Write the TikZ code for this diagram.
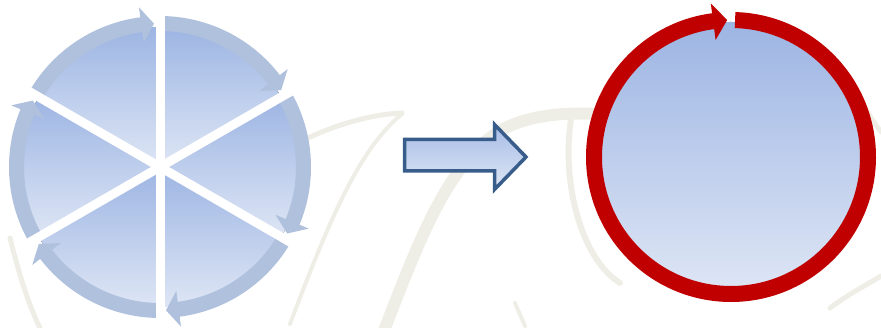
\documentclass[tikz,border=0pt]{standalone}
\usepackage{tikz}
\usetikzlibrary{arrows.meta}
\definecolor{ringblue}{HTML}{B0C1DE}
\definecolor{sectop}{HTML}{9DB5E3}
\definecolor{secbot}{HTML}{DEE6F5}
\definecolor{arrowline}{HTML}{385D8A}
\definecolor{ringred}{HTML}{C00000}
\definecolor{wmark}{HTML}{EFEEE6}
\tikzset{sector/.style = {top color = sectop, bottom color = secbot}}
\tikzset{ring/.style = {fill = ringblue}}
\tikzset{gap/.style = {draw = white, line width = 9}}
\tikzset{wm/.style = {draw = wmark, line cap = round}}

\begin{document}
\begin{tikzpicture}[x = 1pt, y = 1pt]
	\useasboundingbox (0, 0) rectangle (881, 328);
	\coordinate (lc) at (160, 161);
	\coordinate (rc) at (731, 171);

	% faint watermark strokes
	\draw[wm, line width = 4] (290, 4) .. controls (330, 110) and (360, 180) .. (402, 214);
	\draw[wm, line width = 5] (308, 190) .. controls (340, 205) and (375, 214) .. (402, 215);
	\draw[wm, line width = 12] (385, 0) .. controls (420, 90) and (450, 170) .. (505, 200) .. controls (530, 212) and (560, 216) .. (600, 214);
	\draw[wm, line width = 4] (515, 25) -- (525, 2);
	\draw[wm, line width = 6] (572, 215) .. controls (560, 150) and (580, 70) .. (620, 45);
	\draw[wm, line width = 5] (10, 90) .. controls (20, 50) and (30, 20) .. (40, 0);
	\draw[wm, line width = 5] (860, 230) .. controls (870, 210) and (878, 200) .. (881, 196);
	\draw[wm, line width = 5] (830, 20) .. controls (850, 35) and (870, 45) .. (881, 52);

	% six sectors
	\begin{scope}[shift = {(lc)}]
		\foreach \g in {90, 30, -30, -90, -150, -210} {
			\fill[sector] (0, 0) -- (\g:140) arc[start angle = \g, end angle = \g-60, radius = 140] -- cycle;
		}
		% curved arrows, clockwise
		\foreach \g in {90, 30, -30, -90, -150, -210} {
			\fill[ring] (\g+59:151) arc[start angle = \g+59, end angle = \g+7, radius = 151]
				-- (\g+7:136) arc[start angle = \g+7, end angle = \g+59, radius = 136] -- cycle;
			\fill[ring] (\g+7.5:125) -- (\g+2.4:143.5) -- (\g+7.5:161) -- cycle;
		}
		% white gaps
		\foreach \g in {90, 30, -30} {
			\draw[gap] (\g:152) -- (\g+180:152);
		}
	\end{scope}

	% block arrow
	\shade[top color = sectop!90, bottom color = secbot, draw = arrowline, line width = 3.5]
		(404.5, 188.5) -- (494.5, 188.5) -- (494.5, 203.5) -- (526, 171)
		-- (494.5, 138.5) -- (494.5, 157) -- (404.5, 157) -- cycle;

	% single cycle
	\begin{scope}[shift = {(rc)}]
		\fill[sector] (0, 0) circle[radius = 135];
		\draw[draw = ringred, line width = 16] (88.3:137) arc[start angle = 88.3, end angle = -263, radius = 137];
		\fill[ringred] (97.5:118) -- (91.6:137) -- (97.5:155) -- cycle;
	\end{scope}
\end{tikzpicture}
\end{document}
